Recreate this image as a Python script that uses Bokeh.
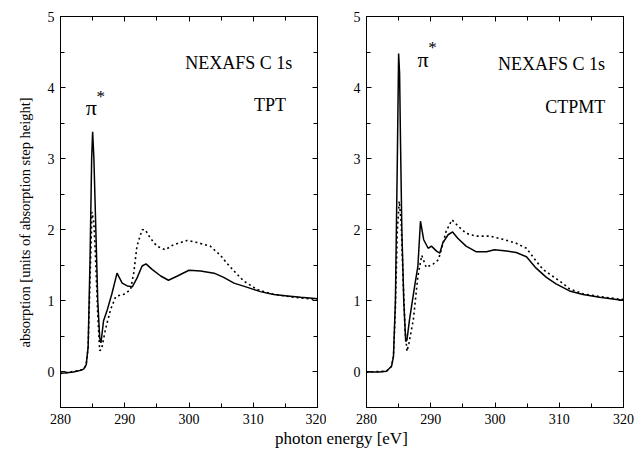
from bokeh.plotting import figure
from bokeh.models import LinearAxis, Label, Div, FixedTicker, Range1d, CustomLabelingPolicy, Title
from bokeh.layouts import row, column
from bokeh.embed import file_html
from bokeh.resources import INLINE

# ---- data ----
tpt_solid_x = [280, 281, 282, 283, 283.6, 284.0, 284.3, 284.6, 284.85, 285.0, 285.2, 285.5, 285.8, 286.1, 286.3,
               286.7, 287.3, 288.0, 288.8, 289.6, 290.4, 291.2, 291.9, 292.7, 293.3, 294.3, 295.6, 296.8, 298.2,
               300.0, 301.8, 303.9, 305.4, 307.0, 309.1, 311.1, 313.2, 315.3, 317.4, 320]
tpt_solid_y = [-0.02, -0.01, 0.0, 0.02, 0.04, 0.1, 0.35, 1.6, 3.0, 3.38, 3.0, 2.0, 1.0, 0.48, 0.41,
               0.72, 0.88, 1.10, 1.39, 1.25, 1.21, 1.20, 1.32, 1.49, 1.52, 1.44, 1.35, 1.29, 1.35,
               1.43, 1.42, 1.39, 1.33, 1.25, 1.19, 1.13, 1.09, 1.07, 1.05, 1.03]

tpt_dot_x = [280, 283, 283.6, 284.0, 284.3, 284.6, 284.9, 285.2, 285.5, 285.8, 286.1, 286.4, 287.0, 287.8,
             288.6, 289.3, 290.1, 290.9, 291.4, 291.9, 292.7, 293.2, 294.0, 295.0, 296.3, 297.6, 299.7,
             301.3, 303.3, 304.9, 305.9, 307.0, 308.5, 310.6, 312.7, 314.8, 317.4, 320]
tpt_dot_y = [-0.02, 0.02, 0.04, 0.1, 0.35, 1.3, 2.25, 2.1, 1.5, 0.8, 0.3, 0.32, 0.6, 0.88,
             1.06, 1.08, 1.10, 1.16, 1.39, 1.77, 2.0, 2.0, 1.88, 1.77, 1.72, 1.79, 1.85,
             1.82, 1.77, 1.64, 1.53, 1.42, 1.28, 1.16, 1.10, 1.07, 1.04, 1.02]

ctpmt_solid_x = [280, 282, 283.1, 283.9, 284.2, 284.5, 284.8, 285.0, 285.15, 285.3, 285.5, 285.8, 286.1, 286.3,
                 286.7, 287.5, 288.0, 288.4, 288.9, 289.6, 290.1, 290.9, 291.4, 291.9, 292.7, 293.4, 294.2,
                 295.5, 297.1, 298.7, 299.9, 301.8, 303.3, 304.9, 306.4, 308.0, 309.5, 311.6, 313.7, 316.3,
                 318.9, 320]
ctpmt_solid_y = [0.0, 0.0, 0.01, 0.08, 0.22, 1.0, 3.0, 4.48, 4.2, 3.2, 2.0, 1.0, 0.43, 0.45,
                 0.74, 1.21, 1.49, 2.12, 1.86, 1.74, 1.77, 1.70, 1.67, 1.82, 1.93, 1.97, 1.88,
                 1.77, 1.69, 1.69, 1.72, 1.70, 1.68, 1.62, 1.46, 1.33, 1.24, 1.14, 1.09, 1.05,
                 1.02, 1.01]

ctpmt_dot_x = [280, 283.1, 283.9, 284.2, 284.5, 284.8, 285.1, 285.4, 285.7, 286.0, 286.3, 286.6, 287.3, 288.0,
               288.6, 289.3, 290.4, 291.2, 291.7, 292.4, 293.3, 294.4, 295.5, 297.1, 299.2, 301.5, 303.3,
               304.9, 306.4, 307.5, 308.6, 310.2, 311.6, 313.7, 316.3, 318.9, 320]
ctpmt_dot_y = [0.0, 0.01, 0.08, 0.22, 0.9, 2.0, 2.4, 2.1, 1.3, 0.6, 0.29, 0.4, 0.74, 1.35,
               1.64, 1.47, 1.52, 1.58, 1.74, 1.98, 2.14, 2.04, 1.95, 1.91, 1.91, 1.86, 1.81,
               1.74, 1.56, 1.44, 1.37, 1.27, 1.17, 1.10, 1.06, 1.03, 1.02]

x_ticks = [280, 290, 300, 310, 320]
y_ticks = [0, 1, 2, 3, 4, 5]
x_minor = [285, 295, 305, 315]
y_minor = [-0.5, 0.5, 1.5, 2.5, 3.5, 4.5]

FONT = "Liberation Serif"

HIDE_CODE = """
try { for (let i = 0; i < indices.size; i++) { indices.unset(i) } } catch (e) {}
return indices
"""


def style_axis(ax, show_labels):
    ax.axis_line_color = "black"
    ax.axis_line_width = 1
    ax.major_tick_in = 5
    ax.major_tick_out = 0
    ax.minor_tick_in = 4
    ax.minor_tick_out = 0
    ax.major_tick_line_color = "black"
    ax.minor_tick_line_color = "black"
    ax.major_label_text_font = FONT
    ax.major_label_text_color = "black"
    if show_labels:
        ax.major_label_text_font_size = "14px"
        ax.major_label_standoff = 6
    else:
        ax.major_label_text_font_size = "0px"
        ax.major_label_standoff = 0
        ax.major_label_policy = CustomLabelingPolicy(code=HIDE_CODE)


def make_panel(sx, sy, dx, dy, texts, w, left_border, right_border):
    p = figure(width=w, height=427, output_backend="svg", toolbar_location=None,
               x_range=Range1d(280, 320), y_range=Range1d(-0.5, 5),
               min_border_left=left_border, min_border_right=right_border,
               min_border_top=16, min_border_bottom=20)
    p.grid.visible = False
    p.outline_line_color = "black"
    p.background_fill_color = "white"
    p.border_fill_color = "white"
    p.xaxis.ticker = FixedTicker(ticks=x_ticks, minor_ticks=x_minor)
    p.yaxis.ticker = FixedTicker(ticks=y_ticks, minor_ticks=y_minor)
    style_axis(p.xaxis[0], True)
    style_axis(p.yaxis[0], True)
    top = LinearAxis(ticker=FixedTicker(ticks=x_ticks, minor_ticks=x_minor))
    right = LinearAxis(ticker=FixedTicker(ticks=y_ticks, minor_ticks=y_minor))
    style_axis(top, False)
    style_axis(right, False)
    p.add_layout(top, "above")
    p.add_layout(right, "right")

    p.line(dx, dy, line_color="black", line_width=1.6, line_dash="2 3")
    p.line(sx, sy, line_color="black", line_width=1.5)

    for (tx, ty, t, size, align, base) in texts:
        p.add_layout(Label(x=tx, y=ty, text=t, text_font=FONT, text_font_size=size,
                           text_align=align, text_baseline=base, text_color="black"))
    return p


texts1 = [
    (307.75, 4.34, "NEXAFS C 1s", "18px", "center", "middle"),
    (312.6, 3.76, "TPT", "18px", "center", "middle"),
    (284.8, 3.72, "π", "22px", "center", "alphabetic"),
    (285.6, 3.88, "*", "17px", "left", "alphabetic"),
]
texts2 = [
    (308.8, 4.33, "NEXAFS C 1s", "18px", "center", "middle"),
    (312.5, 3.73, "CTPMT", "18px", "center", "middle"),
    (288.8, 4.40, "π", "22px", "center", "alphabetic"),
    (289.6, 4.56, "*", "17px", "left", "alphabetic"),
]

p1 = make_panel(tpt_solid_x, tpt_solid_y, tpt_dot_x, tpt_dot_y, texts1, 326, 60, 9)
p2 = make_panel(ctpmt_solid_x, ctpmt_solid_y, ctpmt_dot_x, ctpmt_dot_y, texts2, 310, 40, 13)

# y-axis title in the left margin
p1.add_layout(Title(text="absorption [units of absorption step height]", align="left", offset=60,
                    vertical_align="top", standoff=20, text_font=FONT, text_font_size="14.5px",
                    text_font_style="normal", text_color="black"), "left")

xlabel = Div(text="photon energy [eV]", margin=(0, 0, 0, 275),
             styles={"font-family": FONT, "font-size": "17px", "color": "black", "white-space": "nowrap"})

layout = column(row(p1, p2), xlabel)

open("out.html", "w").write(file_html(layout, INLINE))
